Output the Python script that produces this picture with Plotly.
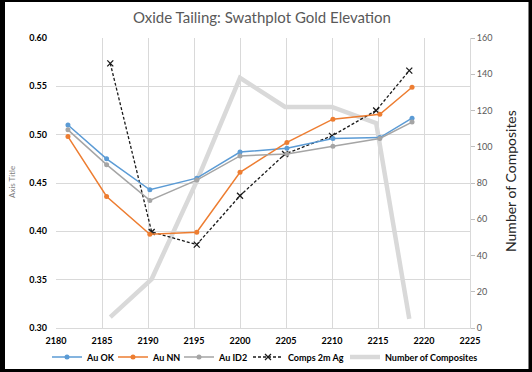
import plotly.graph_objects as go

# ---- data ----
elev_au = [2181.3, 2185.5, 2190.2, 2195.3, 2200.0, 2205.1, 2210.1, 2215.2, 2218.7]
au_ok = [0.510, 0.475, 0.443, 0.455, 0.482, 0.486, 0.496, 0.497, 0.517]
au_nn = [0.498, 0.436, 0.397, 0.399, 0.461, 0.492, 0.516, 0.521, 0.549]
au_id2 = [0.505, 0.469, 0.432, 0.453, 0.478, 0.480, 0.488, 0.496, 0.513]

elev_comps = [2185.9, 2190.4, 2195.3, 2200.0, 2204.9, 2210.0, 2214.8, 2218.4]
comps_ag = [146, 53, 46, 73, 96, 106, 120, 142]
num_comps = [6, 27, 81, 138, 122, 122, 113, 5]

x_ticks = list(range(2180, 2226, 5))

FONT = "Lato"
fig = go.Figure()

fig.add_trace(go.Scatter(x=elev_comps, y=num_comps, name="Number of Composites",
                         mode="lines", line=dict(color="#d9d9d9", width=4.5),
                         yaxis="y", legend="legend5"))
fig.add_trace(go.Scatter(x=elev_comps, y=comps_ag, name="Comps 2m Ag",
                         mode="lines+markers",
                         line=dict(color="#1a1a1a", width=1.3, dash="3px,2px"),
                         marker=dict(symbol="x-thin", size=6, line=dict(color="#1a1a1a", width=1.3)),
                         yaxis="y", legend="legend4"))

fig.add_trace(go.Scatter(x=elev_au, y=au_ok, name="Au OK", mode="lines+markers",
                         line=dict(color="#5B9BD5", width=1.5), marker=dict(size=5, color="#5B9BD5"),
                         yaxis="y2", legend="legend"))
fig.add_trace(go.Scatter(x=elev_au, y=au_nn, name="Au NN", mode="lines+markers",
                         line=dict(color="#ED7D31", width=1.5), marker=dict(size=5, color="#ED7D31"),
                         yaxis="y2", legend="legend2"))
fig.add_trace(go.Scatter(x=elev_au, y=au_id2, name="Au ID2", mode="lines+markers",
                         line=dict(color="#A5A5A5", width=1.5), marker=dict(size=5, color="#A5A5A5"),
                         yaxis="y2", legend="legend3"))

L, R, T, B = 56, 62, 38, 44
W, H = 532, 372
pw, ph = W - L - R, H - T - B

def px_to_paper_x(px):
    return (px - L) / pw

def px_to_paper_y(py):
    return (H - B - py) / ph

def legend_at(px_left):
    return dict(orientation="h", x=px_left / W, xref="container", xanchor="left",
                y=1 - 357 / H, yref="container", yanchor="middle",
                font=dict(family=FONT, size=9, color="#000000", weight="bold"),
                bgcolor="rgba(0,0,0,0)", itemwidth=30, borderwidth=0)

fig.update_layout(
    width=W, height=H,
    margin=dict(l=L, r=R, t=T, b=B, autoexpand=False),
    paper_bgcolor="black",
    plot_bgcolor="white",
    font=dict(family=FONT, color="#000000", size=9),
    title=dict(text="Oxide Tailing: Swathplot Gold Elevation",
               font=dict(family=FONT, size=15, color="#595959"),
               x=262 / W, xanchor="center", xref="container",
               y=1 - 18 / H, yanchor="middle", yref="container"),
    xaxis=dict(range=[2180, 2225], tickvals=x_ticks, ticktext=[str(v) for v in x_ticks],
               showgrid=True, gridcolor="#d9d9d9", gridwidth=1,
               showline=True, linecolor="#d9d9d9", zeroline=False, ticks="",
               ticklabelstandoff=4,
               tickfont=dict(family=FONT, size=9, color="#000000", weight="bold")),
    yaxis=dict(range=[0, 160], dtick=20, side="right", showgrid=False, zeroline=False,
               showline=True, linecolor="#d9d9d9", ticks="outside", ticklen=4, tickcolor="#bfbfbf",
               tickfont=dict(family=FONT, size=9, color="#595959")),
    yaxis2=dict(range=[0.30, 0.60], dtick=0.05, tickformat=".2f", side="left", overlaying="y",
                showgrid=True, gridcolor="#d9d9d9", gridwidth=1, zeroline=False,
                showline=False, ticks="", ticklabelstandoff=8,
                tickfont=dict(family=FONT, size=9, color="#000000", weight="bold")),
    legend=legend_at(47),
    legend2=legend_at(113),
    legend3=legend_at(179),
    legend4=legend_at(248),
    legend5=legend_at(345),
    showlegend=True,
    shapes=[dict(type="rect", xref="paper", yref="paper", layer="below",
                 x0=px_to_paper_x(5), x1=px_to_paper_x(528.5),
                 y0=px_to_paper_y(369), y1=px_to_paper_y(2),
                 fillcolor="white", line=dict(width=0))],
    annotations=[
        dict(text="Axis Title", textangle=-90, xref="paper", yref="paper",
             x=px_to_paper_x(12), y=px_to_paper_y(182), xanchor="center", yanchor="middle",
             showarrow=False, font=dict(family=FONT, size=8, color="#7f7f7f")),
        dict(text="Number of Composites", textangle=-90, xref="paper", yref="paper",
             x=px_to_paper_x(510), y=px_to_paper_y(181), xanchor="center", yanchor="middle",
             showarrow=False, font=dict(family=FONT, size=14, color="#262626")),
    ],
)

fig.write_html("out.html",
               config={"displayModeBar": False},
               post_script="document.body.style.margin='0';document.body.style.overflow='hidden';")
